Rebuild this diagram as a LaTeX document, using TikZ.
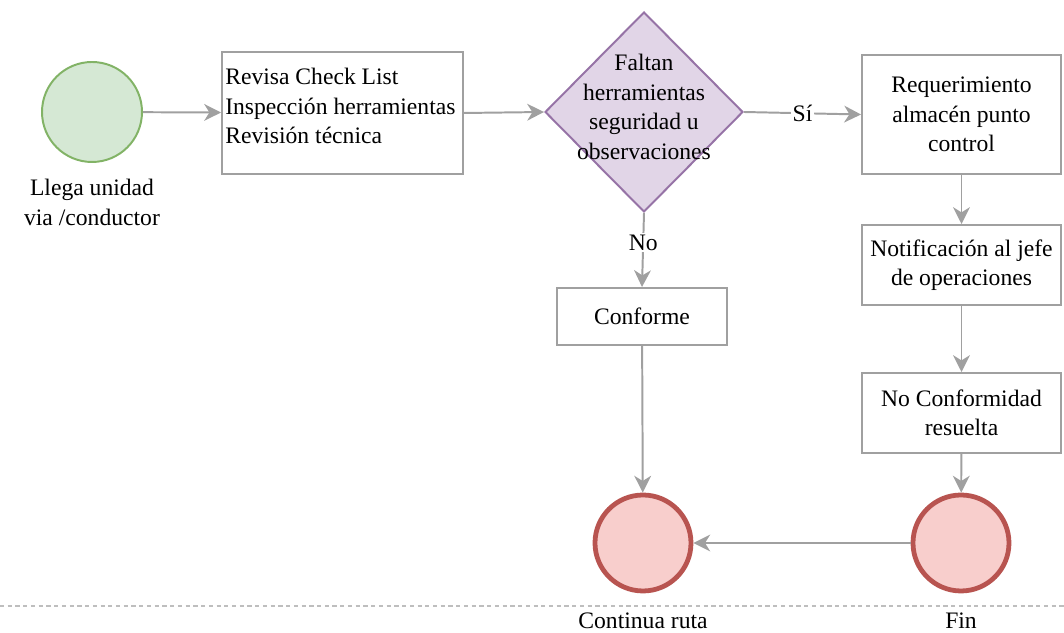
\documentclass[tikz,border=0pt]{standalone}
\usepackage{fontspec}
\setmainfont{Liberation Serif}
\usetikzlibrary{shapes.geometric,arrows.meta}
\definecolor{linegray}{RGB}{160,160,160}
\definecolor{dashgray}{RGB}{190,190,190}
\definecolor{startfill}{HTML}{D5E8D4}
\definecolor{startline}{HTML}{82B366}
\definecolor{decfill}{HTML}{E1D5E7}
\definecolor{decline}{HTML}{9673A6}
\definecolor{endfill}{HTML}{F8CECC}
\definecolor{endline}{HTML}{B85450}
\begin{document}
\begin{tikzpicture}[font=\fontsize{16.8}{21}\selectfont,
	box/.style={draw=linegray, line width=1.4pt, align=center, inner sep=0.1cm, minimum width=4.975cm},
	startc/.style={circle, draw=startline, fill=startfill, line width=1.4pt, minimum size=2.5cm},
	endc/.style={circle, draw=endline, fill=endfill, line width=3.4pt, minimum size=2.4cm},
	decision/.style={diamond, draw=decline, fill=decfill, line width=1.4pt, minimum width=4.95cm, minimum height=5cm, inner sep=0pt},
	flow/.style={draw=linegray, line width=1.4pt, -{Stealth[length=4.2mm,width=4.2mm,inset=1.3mm]}}]
	\useasboundingbox (0,0) rectangle (26.6,15.825);
	\draw[dashgray, line width=0.8pt, dash pattern=on 3pt off 2.5pt] (0,0.675) -- (26.6,0.675);
	\node[startc] (inicio) at (2.3,13.025) {};
	\node[align=center] (llega) at (2.3,10.76) {Llega unidad\\via /conductor};
	\node[box, minimum width=6.025cm, minimum height=3.05cm] (revisa) at (8.5625,13.0) {};
	\node[align=left, anchor=north west, inner sep=0pt] (revisatxt) at ([xshift=0.1cm,yshift=-0.43cm]revisa.north west) {Revisa Check List\\Inspección herramientas\\Revisión técnica};
	\node[decision] (falta) at (16.1,13.025) {};
	\node[align=center] (faltatxt) at (16.1,13.15) {Faltan\\herramientas\\seguridad u\\observaciones};
	\node[box, minimum height=2.975cm] (req) at (24.0375,12.9625) {Requerimiento\\almacén punto\\control};
	\node[box, minimum height=2cm] (notif) at (24.0375,9.2) {Notificación al jefe\\de operaciones};
	\node[box, minimum height=2cm] (noconf) at (24.0375,5.5) {No Conformidad\\resuelta};
	\node[box, minimum width=4.25cm, minimum height=1.425cm] (conf) at (16.05,7.9125) {Conforme};
	\node[endc] (cont) at (16.075,2.25) {};
	\node[endc] (fin) at (24.025,2.25) {};
	\node (conttxt) at (16.075,0.3) {Continua ruta};
	\node (fintxt) at (24.025,0.3) {Fin};
	\draw[flow] (inicio) -- (revisa);
	\draw[flow] (revisa.east) -- (falta.west);
	\draw[flow] (falta.east) -- node[fill=white, inner sep=1pt] {Sí} (req.west);
	\draw[flow] (falta.south) -- node[pos=0.4, fill=white, inner sep=1pt] {No} (conf.north);
	\draw[flow] (req) -- (notif);
	\draw[flow] (notif) -- (noconf);
	\draw[flow] (noconf) -- (fin);
	\draw[flow] (conf) -- (cont);
	\draw[flow] (fin) -- (cont);
\end{tikzpicture}
\end{document}
